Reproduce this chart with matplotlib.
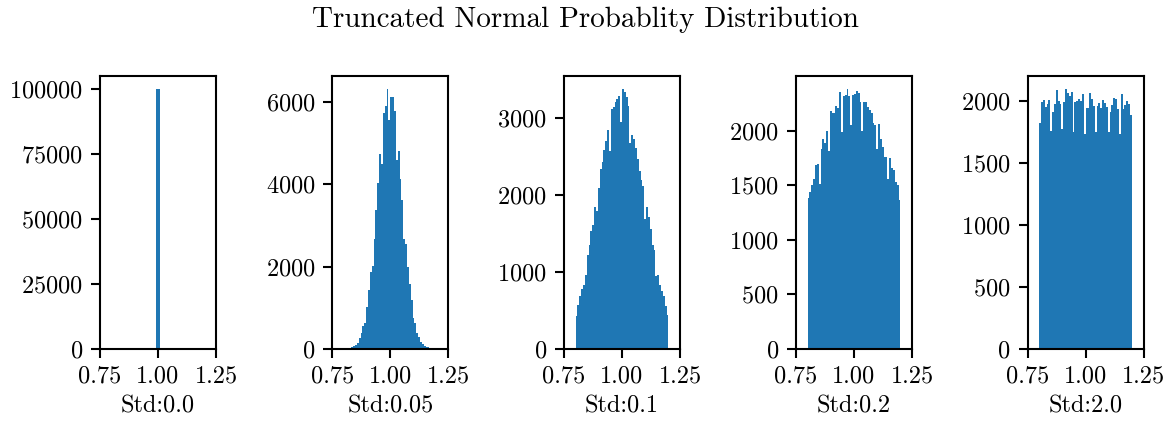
import numpy as np
import matplotlib
matplotlib.use('Agg')
import matplotlib.pyplot as plt

# ---- data ----
std_labels = ['Std:0.0', 'Std:0.05', 'Std:0.1', 'Std:0.2', 'Std:2.0']
x_ticks = [0.75, 1.00, 1.25]
x_tick_labels = ['0.75', '1.00', '1.25']
y_ticks = [
    [0, 25000, 50000, 75000, 100000],
    [0, 2000, 4000, 6000],
    [0, 1000, 2000, 3000],
    [0, 500, 1000, 1500, 2000],
    [0, 500, 1000, 1500, 2000],
]

# Std 0.0 : all samples equal to 1.0 -> one bin
edges_std000 = [0.99, 1.01]
counts_std000 = [100000]

# Std 0.05 / 0.1 / 0.2 / 2.0 : 50 bins between 0.8 and 1.2
range_lo, range_hi = 0.8, 1.2

counts_std005 = [1, 3, 8, 15, 30, 55, 90, 139, 268, 375,
                 553, 618, 1025, 1432, 1863, 2017, 2676, 3383, 4034, 4741,
                 4505, 5741, 5903, 6334, 5578, 6139, 6139, 5797, 4602, 4805,
                 4139, 3627, 2676, 2546, 1993, 1578, 1180, 741, 627, 383,
                 278, 171, 107, 73, 49, 34, 20, 10, 5, 2]

counts_std01 = [430, 570, 687, 779, 831, 961, 1222, 1352, 1526, 1613,
                1848, 1796, 2092, 2343, 2431, 2591, 2708, 2852, 2569, 3113,
                3148, 3213, 3252, 3295, 2947, 3386, 3343, 3273, 3152, 2673,
                2787, 2731, 2613, 2474, 2317, 2200, 2113, 1691, 1839, 1717,
                1561, 1352, 1278, 948, 961, 831, 752, 687, 557, 439]

counts_std02 = [1383, 1438, 1502, 1557, 1685, 1697, 1511, 1835, 1921, 1887,
                1997, 1808, 2181, 2156, 2156, 2224, 2202, 2352, 1982, 2312,
                2325, 2385, 2312, 2050, 2330, 2333, 2361, 2343, 2257, 1994,
                2257, 2257, 2216, 2187, 2162, 2073, 2050, 1835, 2056, 1921,
                1845, 1759, 1759, 1560, 1750, 1658, 1637, 1529, 1499, 1362]

counts_std20 = [1827, 1997, 2014, 1957, 1976, 2014, 1760, 1917, 1976, 2087,
                2003, 1976, 1776, 1997, 2103, 2070, 2046, 2078, 1755, 1997,
                2006, 2022, 2003, 2060, 1736, 1949, 1943, 2070, 2019, 1965,
                1755, 1965, 1987, 1949, 2011, 1989, 1955, 1749, 1911, 1971,
                2030, 2016, 1935, 1736, 2060, 1938, 1971, 2003, 1976, 1887]

title = 'Truncated Normal Probablity Distribution'

# ---- style ----
plt.rcParams['font.family'] = 'cmr10'
plt.rcParams['mathtext.fontset'] = 'cm'
plt.rcParams['axes.formatter.use_mathtext'] = True
plt.rcParams['font.size'] = 17.5
plt.rcParams['axes.linewidth'] = 1.5
plt.rcParams['xtick.major.width'] = 1.5
plt.rcParams['ytick.major.width'] = 1.5
plt.rcParams['xtick.major.size'] = 6.3
plt.rcParams['ytick.major.size'] = 6.3
plt.rcParams['xtick.major.pad'] = 5.5
plt.rcParams['ytick.major.pad'] = 6.0

fig = plt.figure(figsize=(11.71, 4.23), dpi=100)

W, H = 1171.0, 423.0
ax_w = 116.0 / W
ax_h = (348.7 - 75.5) / H
bottom = 1 - 348.7 / H
lefts = [100.0, 332.3, 564.0, 796.0, 1027.5]

all_counts = [counts_std000, counts_std005, counts_std01, counts_std02, counts_std20]
all_edges = [np.array(edges_std000)] + [
    np.linspace(range_lo, range_hi, len(c) + 1) for c in all_counts[1:]]

for i in range(5):
    ax = fig.add_axes([lefts[i] / W, bottom, ax_w, ax_h])
    edges = all_edges[i]
    counts = np.array(all_counts[i], dtype=float)
    ax.hist(edges[:-1], bins=edges, weights=counts, color='#1f77b4')
    ax.set_xlim(0.75, 1.25)
    ax.set_xticks(x_ticks)
    ax.set_xticklabels(x_tick_labels)
    ax.set_yticks(y_ticks[i])
    ax.set_xlabel(std_labels[i], labelpad=6)

fig.suptitle(title, y=1 - 20 / H, va='center', fontsize=21)

fig.savefig('out.png', dpi=100)
